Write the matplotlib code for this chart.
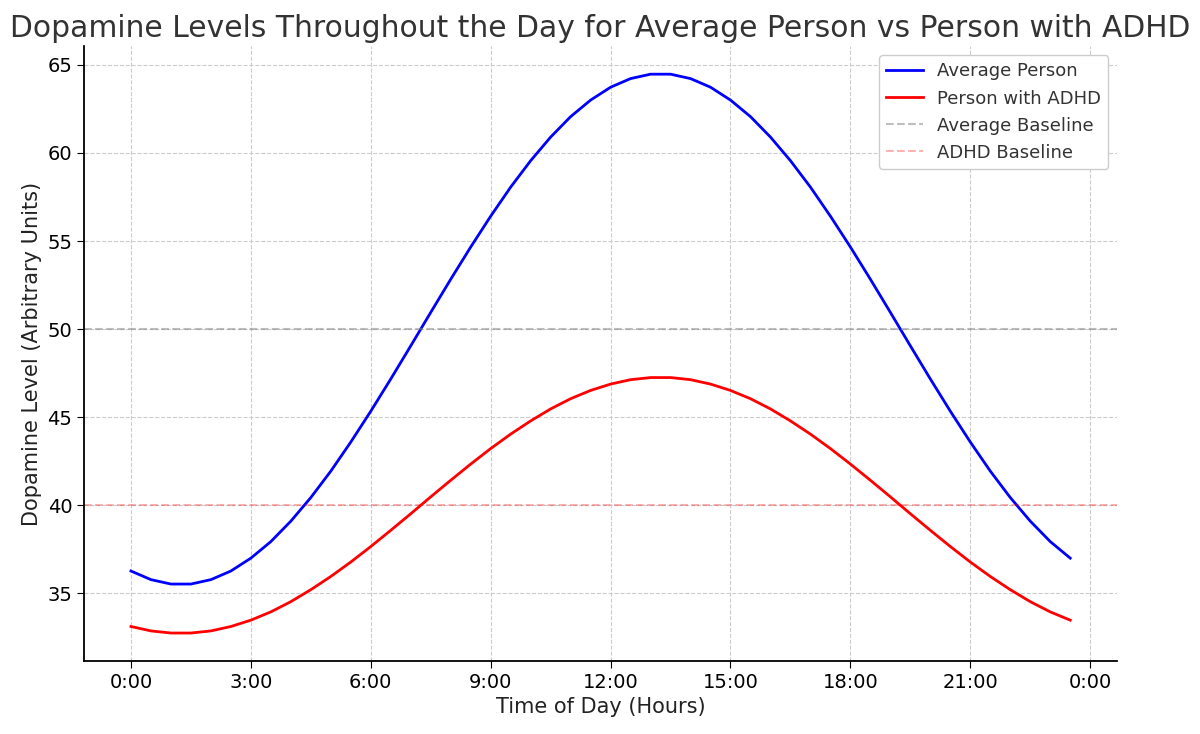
import numpy as np
import matplotlib
matplotlib.use("Agg")
import matplotlib.pyplot as plt

# hours, every half hour
hours = np.arange(0, 24, 0.5)

avg_person = [36.27, 35.78, 35.53, 35.53, 35.78, 36.27, 37.00, 37.94, 39.10, 40.44,
              41.94, 43.59, 45.34, 47.17, 49.05, 50.95, 52.83, 54.66, 56.41, 58.06,
              59.56, 60.90, 62.06, 63.00, 63.73, 64.22, 64.47, 64.47, 64.22, 63.73,
              63.00, 62.06, 60.90, 59.56, 58.06, 56.41, 54.66, 52.83, 50.95, 49.05,
              47.17, 45.34, 43.59, 41.94, 40.44, 39.10, 37.94, 37.00]

adhd_person = [33.12, 32.87, 32.75, 32.75, 32.87, 33.12, 33.48, 33.95, 34.53, 35.21,
               35.96, 36.78, 37.66, 38.58, 39.52, 40.48, 41.42, 42.34, 43.22, 44.04,
               44.79, 45.47, 46.05, 46.52, 46.88, 47.13, 47.25, 47.25, 47.13, 46.88,
               46.52, 46.05, 45.47, 44.79, 44.04, 43.22, 42.34, 41.42, 40.48, 39.52,
               38.58, 37.66, 36.78, 35.96, 35.21, 34.53, 33.95, 33.48]

avg_baseline = 50
adhd_baseline = 40

xticks = [0, 3, 6, 9, 12, 15, 18, 21, 24]
xtick_labels = ["0:00", "3:00", "6:00", "9:00", "12:00", "15:00", "18:00", "21:00", "0:00"]

fig = plt.figure(figsize=(12, 7.34), dpi=100)
ax = fig.add_axes([0.07, 0.0995, 0.861, 0.8375])

ax.plot(hours, avg_person, color="blue", lw=2, label="Average Person")
ax.plot(hours, adhd_person, color="red", lw=2, label="Person with ADHD")
ax.axhline(avg_baseline, color="gray", ls="--", lw=1.5, alpha=0.5, label="Average Baseline")
ax.axhline(adhd_baseline, color="red", ls="--", lw=1.5, alpha=0.3, label="ADHD Baseline")

ax.set_xticks(xticks)
ax.set_xticklabels(xtick_labels)
ax.tick_params(labelsize=14, length=5)
ax.grid(True, ls="--", color="#cccccc", lw=0.8)
ax.spines["top"].set_visible(False)
ax.spines["right"].set_visible(False)
ax.spines["left"].set_linewidth(1.3)
ax.spines["bottom"].set_linewidth(1.3)

ax.set_title("Dopamine Levels Throughout the Day for Average Person vs Person with ADHD",
             fontsize=21.4, color="#333333", pad=7)
ax.set_xlabel("Time of Day (Hours)", fontsize=15, color="#222222")
ax.set_ylabel("Dopamine Level (Arbitrary Units)", fontsize=15, color="#222222")

leg = ax.legend(loc="upper right", fontsize=13, framealpha=1)
for t in leg.get_texts():
    t.set_color("#333333")

fig.savefig("out.png", dpi=100)
